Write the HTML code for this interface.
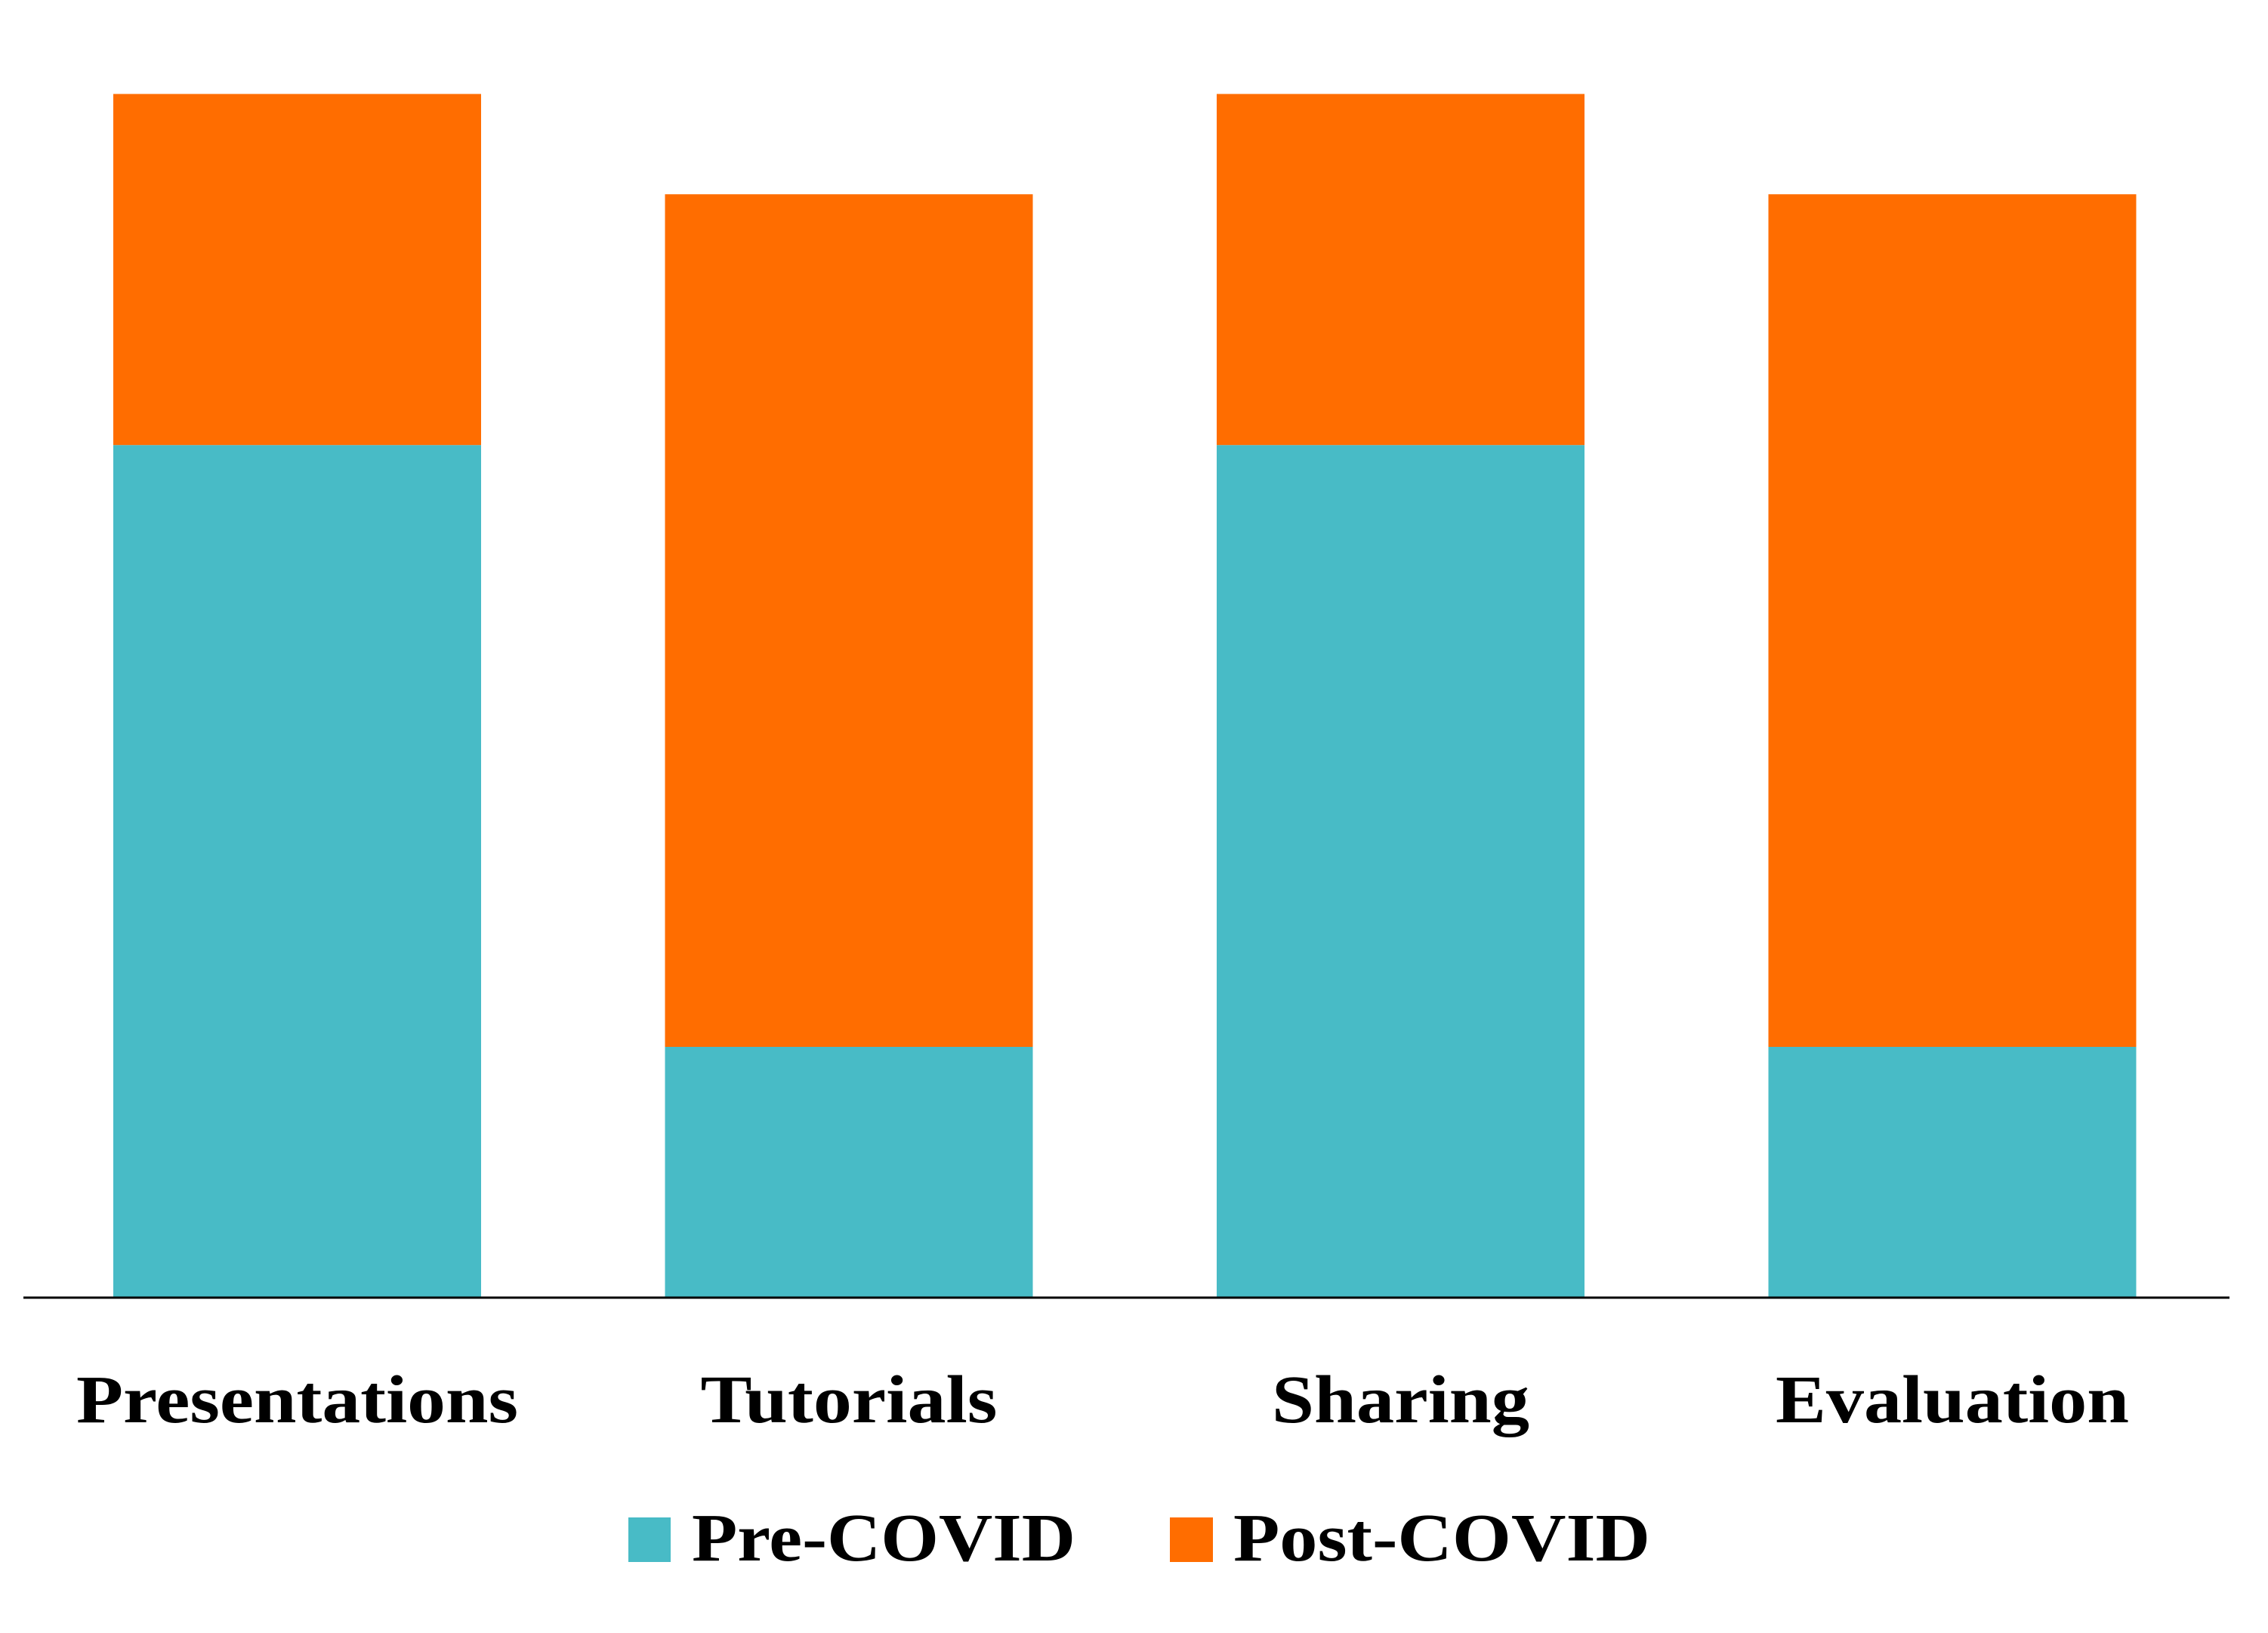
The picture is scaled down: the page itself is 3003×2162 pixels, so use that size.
<!DOCTYPE html>
<html><head><meta charset="utf-8"><style>
html,body{margin:0;padding:0;background:#fff;}
svg{display:block;}
text{font-family:"Liberation Serif",serif;font-weight:bold;fill:#000;}
</style></head><body>
<svg id="chart" width="3003" height="2162" viewBox="0 0 3003 2162" xmlns="http://www.w3.org/2000/svg">
<g id="bars"></g>
<line x1="31" y1="1718" x2="2952" y2="1718" stroke="#000" stroke-width="3"/>
<g id="labels"></g>
<g>
<g>
<rect x="832" y="2009" width="56" height="59" fill="#48bbc6"/>
<text x="916" y="2066" font-size="90" textLength="508" lengthAdjust="spacingAndGlyphs">Pre-COVID</text>
</g>
<g>
<rect x="1549" y="2009" width="57" height="59" fill="#ff6d00"/>
<text x="1633" y="2066" font-size="90" textLength="552" lengthAdjust="spacingAndGlyphs">Post-COVID</text>
</g>
</g>
</svg>
<script>
const categories = ["Presentations", "Tutorials", "Sharing", "Evaluation"];
const preCovid = [17, 5, 17, 5];
const postCovid = [7, 17, 7, 17];
const labelLengths = [585, 393, 341, 468];

const NS = "http://www.w3.org/2000/svg";
const baseY = 1718, unit = 66.4;
const x0 = 150, step = 730.5, barW = 487;
function xPos(i){ return x0 + i * step; }
function yPos(v){ return baseY - v * unit; }

const bars = document.getElementById('bars');
const labels = document.getElementById('labels');
categories.forEach((c, i) => {
  const x = xPos(i);
  const pre = document.createElementNS(NS, 'rect');
  
  
  pre.setAttribute('x', x); pre.setAttribute('width', barW);
  pre.setAttribute('y', yPos(preCovid[i])); pre.setAttribute('height', baseY - yPos(preCovid[i]));
  pre.setAttribute('fill', '#48bbc6');
  bars.appendChild(pre);
  const post = document.createElementNS(NS, 'rect');
  
  
  const top = yPos(preCovid[i] + postCovid[i]);
  post.setAttribute('x', x); post.setAttribute('width', barW);
  post.setAttribute('y', top); post.setAttribute('height', yPos(preCovid[i]) - top);
  post.setAttribute('fill', '#ff6d00');
  bars.appendChild(post);
  const t = document.createElementNS(NS, 'text');
  
  
  t.setAttribute('x', x + barW / 2); t.setAttribute('y', 1883);
  t.setAttribute('text-anchor', 'middle'); t.setAttribute('font-size', '90');
  t.setAttribute('textLength', labelLengths[i]); t.setAttribute('lengthAdjust', 'spacingAndGlyphs');
  t.textContent = c;
  labels.appendChild(t);
});
</script>
</body></html>
